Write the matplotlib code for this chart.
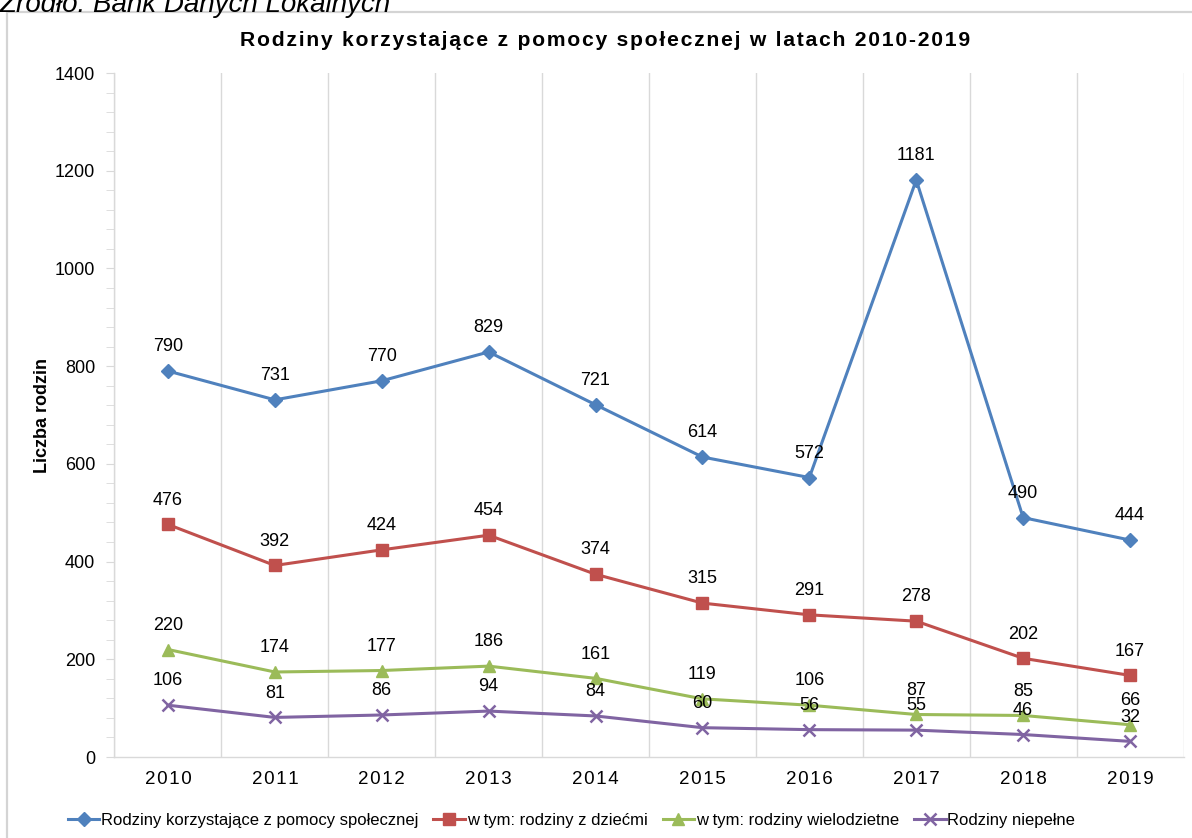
import matplotlib
matplotlib.use("Agg")
import matplotlib.pyplot as plt
from matplotlib.patches import Rectangle
from matplotlib.ticker import MultipleLocator

plt.rcParams['font.family'] = ['Liberation Sans', 'DejaVu Sans']

lata = ['2010', '2011', '2012', '2013', '2014', '2015', '2016', '2017', '2018', '2019']
korzystajace = [790, 731, 770, 829, 721, 614, 572, 1181, 490, 444]
z_dziecmi = [476, 392, 424, 454, 374, 315, 291, 278, 202, 167]
wielodzietne = [220, 174, 177, 186, 161, 119, 106, 87, 85, 66]
niepelne = [106, 81, 86, 94, 84, 60, 56, 55, 46, 32]

serie = [
    ("Rodziny korzystające z pomocy społecznej", korzystajace, '#4F81BD', 'D', 7.5),
    ("w tym: rodziny z dziećmi", z_dziecmi, '#C0504D', 's', 8.5),
    ("w tym: rodziny wielodzietne", wielodzietne, '#9BBB59', '^', 9),
    ("Rodziny niepełne", niepelne, '#8064A2', 'x', 8.5),
]

def rozstrzel(s, sep):
    # letter spacing like in the excel chart
    return sep.join(list(s))

fig = plt.figure(figsize=(11.92, 8.38), dpi=100)
ax = fig.add_axes([114.5/1192, 1-757/838, 1069/1192, 684/838])

# outer chart frame (goes past the bottom/right edge of the picture)
fig.patches.append(Rectangle((7/1192, -0.1), 1.2, 1.1-12/838, transform=fig.transFigure,
                             fill=False, edgecolor='#D4D4D4', linewidth=1.6, zorder=0))

x = list(range(len(lata)))
handles = []
for nazwa, vals, kolor, mk, ms in serie:
    mew = 1.8 if mk == 'x' else 1
    h, = ax.plot(x, vals, color=kolor, lw=2.2, marker=mk, markersize=ms,
                 markeredgewidth=mew, markeredgecolor=kolor, label=nazwa, zorder=3)
    handles.append(h)
    for xi, v in zip(x, vals):
        ax.annotate(str(v), (xi, v), xytext=(0, 17.5), textcoords='offset points',
                    ha='center', va='center', fontsize=13, color='black', zorder=4)

ax.set_xlim(-0.5, 9.5)
ax.set_ylim(0, 1400)
ax.yaxis.set_major_locator(MultipleLocator(200))
ax.yaxis.set_minor_locator(MultipleLocator(40))
ax.set_xticks(x)
ax.set_xticklabels([rozstrzel(r, '\u200a') for r in lata], fontsize=13.5)
ax.set_xticks([i - 0.5 for i in range(len(lata) + 1)], minor=True)
ax.grid(True, which='minor', axis='x', color='#D9D9D9', lw=1)
ax.tick_params(axis='x', which='both', length=0, pad=10)
ax.tick_params(axis='y', which='both', length=6, color='#D9D9D9', labelsize=13, pad=8)

for sp in ['top', 'right']:
    ax.spines[sp].set_visible(False)
for sp in ['left', 'bottom']:
    ax.spines[sp].set_color('#D9D9D9')
    ax.spines[sp].set_linewidth(1)

ax.set_ylabel("Liczba rodzin", fontsize=13, fontweight='bold')
ax.yaxis.set_label_coords(-0.059, 0.5)

fig.text(605/1192, 1-40/838,
         rozstrzel("Rodziny korzystające z pomocy społecznej w latach 2010-2019", '\u200a'),
         ha='center', va='center', fontsize=15.2, fontweight='bold')

fig.text(0, 1-12/838, "Źródło: Bank Danych Lokalnych", ha='left', va='baseline',
         fontsize=20, style='italic', color='black')

fig.legend(handles=handles, loc='center', bbox_to_anchor=(571.5/1192, 1-820/838),
           ncol=4, frameon=False, handlelength=1.9, handletextpad=0.1, columnspacing=0.9,
           prop={'size': 12})

fig.savefig("out.png", dpi=100)
